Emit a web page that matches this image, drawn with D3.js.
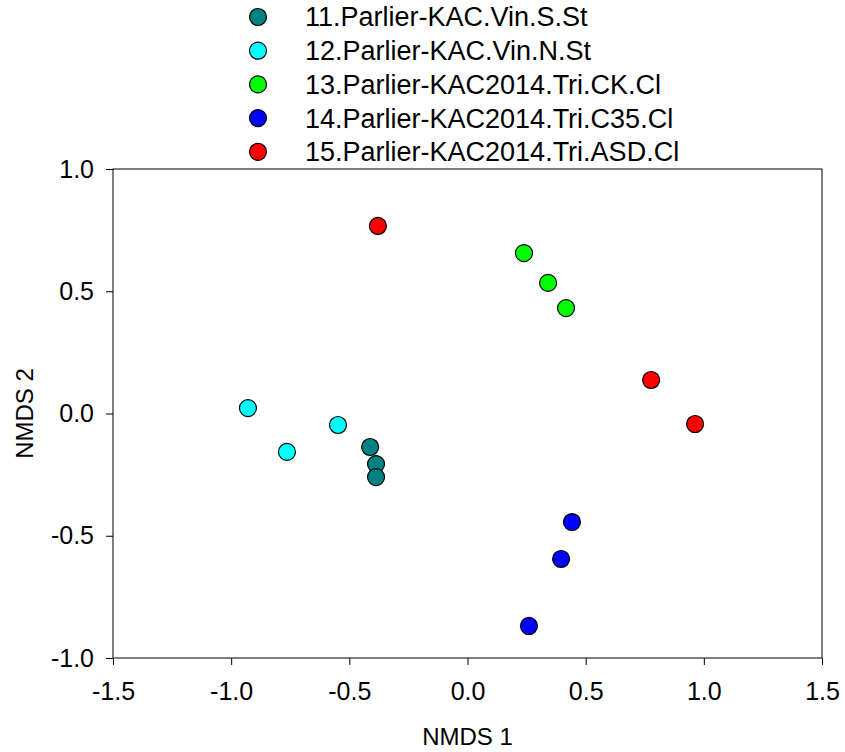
<!DOCTYPE html>
<html>
<head>
<meta charset="utf-8">
<script src="https://cdn.jsdelivr.net/npm/d3@7"></script>
<style>
  body { margin: 0; background: #fff; }
  text { font-family: "Liberation Sans", Arial, sans-serif; fill: #000; }
</style>
</head>
<body>
<script>
// group names and fill colours (legend order)
var groups = [
    "11.Parlier-KAC.Vin.S.St",
    "12.Parlier-KAC.Vin.N.St",
    "13.Parlier-KAC2014.Tri.CK.Cl",
    "14.Parlier-KAC2014.Tri.C35.Cl",
    "15.Parlier-KAC2014.Tri.ASD.Cl"
];
var colors = ["#008080", "#00FFFF", "#00FF00", "#0000FF", "#FF0000"];

// NMDS scores, one array per group
var nmds1 = [
    [-0.412, -0.387, -0.387],
    [-0.929, -0.764, -0.548],
    [0.239, 0.341, 0.417],
    [0.442, 0.396, 0.260],
    [-0.379, 0.777, 0.963]
];
var nmds2 = [
    [-0.137, -0.207, -0.260],
    [0.022, -0.157, -0.047],
    [0.656, 0.534, 0.431],
    [-0.444, -0.595, -0.869],
    [0.767, 0.137, -0.043]
];

var xTicks = [-1.5, -1.0, -0.5, 0.0, 0.5, 1.0, 1.5];
var yTicks = [-1.0, -0.5, 0.0, 0.5, 1.0];

window.onload = function () {

    var w = 845, h = 752;
    var left = 113, right = 822, top = 169, bottom = 658;

    var svg = d3.select("body").append("svg")
        .attr("width", w)
        .attr("height", h);

    var x = d3.scaleLinear().domain([-1.5, 1.5]).range([left, right]);
    var y = d3.scaleLinear().domain([-1.0, 1.0]).range([bottom, top]);

    //plain hyphen for negatives, like the original
    var fmt = function (d) { return d3.format(".1f")(d).replace("\u2212", "-"); };

    //frame around the plot
    svg.append("rect")
        .attr("x", left)
        .attr("y", top)
        .attr("width", right - left)
        .attr("height", bottom - top)
        .style("fill", "none")
        .style("stroke", "#000")
        .style("stroke-width", 1);

    //bottom axis
    var xAxis = svg.append("g")
        .attr("transform", "translate(0," + bottom + ")")
        .call(d3.axisBottom(x).tickValues(xTicks).tickFormat(fmt).tickSize(7).tickPadding(17));

    //left axis
    var yAxis = svg.append("g")
        .attr("transform", "translate(" + left + ",0)")
        .call(d3.axisLeft(y).tickValues(yTicks).tickFormat(fmt).tickSize(7).tickPadding(12));

    [xAxis, yAxis].forEach(function (g) {
        g.select(".domain").remove();
        g.selectAll("line").style("stroke", "#000");
        g.selectAll("text")
            .style("font-family", "'Liberation Sans', Arial, sans-serif")
            .style("font-size", "25px")
            .style("fill", "#000");
    });

    //axis titles
    svg.append("text")
        .attr("x", (left + right) / 2)
        .attr("y", 745)
        .attr("text-anchor", "middle")
        .style("font-size", "24px")
        .text("NMDS 1");

    svg.append("text")
        .attr("transform", "translate(33," + y(0) + ") rotate(-90)")
        .attr("text-anchor", "middle")
        .style("font-size", "24px")
        .text("NMDS 2");

    //points, one group at a time
    groups.forEach(function (g, gi) {
        var pts = nmds1[gi].map(function (v, i) { return { x: v, y: nmds2[gi][i] }; });
        svg.selectAll(".pt" + gi)
            .data(pts)
            .enter()
            .append("circle")
            .attr("class", "pt" + gi)
            .attr("cx", function (d) { return x(d.x); })
            .attr("cy", function (d) { return y(d.y); })
            .attr("r", 8.5)
            .style("fill", colors[gi])
            .style("stroke", "#000")
            .style("stroke-width", 1.2);
    });

    //legend
    var legend = svg.selectAll(".legend")
        .data(groups)
        .enter()
        .append("g")
        .attr("class", "legend")
        .attr("transform", function (d, i) { return "translate(258," + (17 + i * 33.7) + ")"; });

    legend.append("circle")
        .attr("r", 8.5)
        .style("fill", function (d, i) { return colors[i]; })
        .style("stroke", "#000")
        .style("stroke-width", 1.2);

    legend.append("text")
        .attr("x", 47)
        .attr("dy", "0.35em")
        .style("font-size", "27px")
        .text(function (d) { return d; });
};
</script>
</body>
</html>
